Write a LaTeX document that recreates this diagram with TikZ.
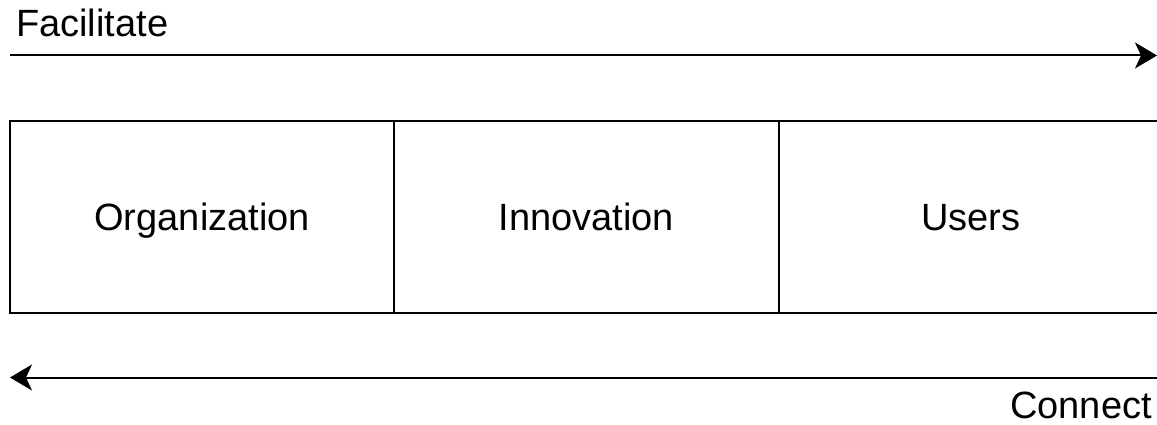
\documentclass[tikz,border=0pt]{standalone}
\usepackage{fontspec}
\setmainfont{Liberation Sans}
\usetikzlibrary{arrows.meta}
\begin{document}
\begin{tikzpicture}[x=1pt,y=-1pt,
  cell/.style={draw=black, line width=2pt, minimum width=384.3pt, minimum height=192pt, inner sep=0pt, outer sep=0pt, text height=27pt, text depth=1pt, font=\fontsize{38}{40}\selectfont, anchor=north west},
  flow/.style={draw=black, line width=2pt, -{Stealth[length=22pt, width=26pt, inset=6pt]}},
  lbl/.style={font=\fontsize{38}{40}\selectfont, inner sep=0pt}]
\useasboundingbox (0,0) rectangle (1157,425);
\node[cell] (org) at (10,121) {Organization};
\node[cell] (inn) at (394.3,121) {Innovation};
\node[cell] (usr) at (778.6,121) {Users};
\coordinate (fs) at (10,55.5);
\coordinate (fe) at (1157,55.5);
\coordinate (cs) at (1157,377.5);
\coordinate (ce) at (10,377.5);
\draw[flow] (fs) -- (fe);
\draw[flow] (cs) -- (ce);
\node[lbl, anchor=base west] (fac) at (16,37) {Facilitate};
\node[lbl, anchor=base east] (con) at (1152,418) {Connect};
\end{tikzpicture}
\end{document}
